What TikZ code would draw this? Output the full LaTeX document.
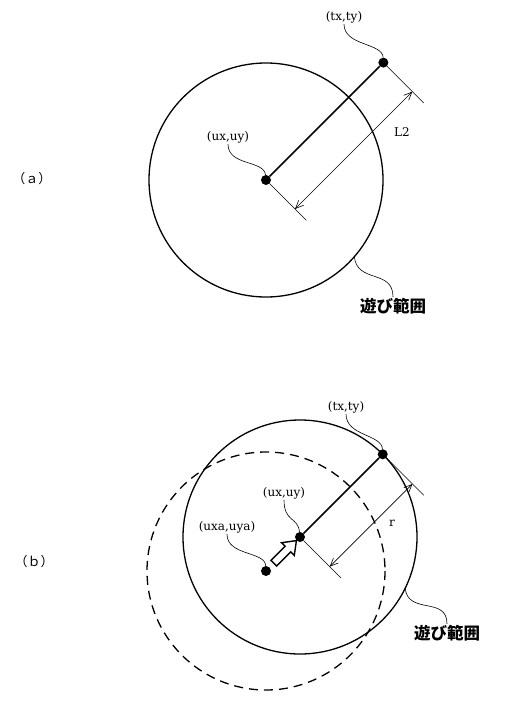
\documentclass[tikz,border=0pt]{standalone}
\usepackage{fontspec}
\setmainfont{DejaVu Serif}
\newfontfamily\cjk{Noto Sans CJK JP}
\usetikzlibrary{arrows.meta,calc}

\begin{document}
\begin{tikzpicture}[x=1pt,y=-1pt,
  every node/.style={inner sep=1pt,font=\fontsize{12}{12}\selectfont},
  dot/.style={circle,fill=black,inner sep=0pt,minimum size=10pt},
  hint/.style={line width=0.6pt},
  playcircle/.style={line width=1.3pt},
  part/.style={font=\fontsize{13}{13}\selectfont\cjk},
  jp/.style={font=\fontsize{16.5}{16.5}\selectfont\cjk\bfseries},
  dimarrow/.style={line width=0.6pt,
    {Straight Barb[length=8pt,width=7pt]}-{Straight Barb[length=8pt,width=7pt]}}]
\useasboundingbox (0,0) rectangle (504,709);

% (a)
\node[part] (labA) at (32,179) {（ａ）};
\draw[playcircle] (266,180) circle[radius=117];
\node[dot] (uA) at (266,180) {};
\node[dot] (tA) at ($(uA)+(-45:166)$) {};
\draw[line width=1.6pt] (uA) -- (tA);
\coordinate (uAe) at ($(uA.center)!57pt!-90:(tA.center)$);
\coordinate (tAe) at ($(tA.center)!57pt!90:(uA.center)$);
\coordinate (dA1) at ($(uA.center)!41pt!-90:(tA.center)$);
\coordinate (dA2) at ($(tA.center)!41pt!90:(uA.center)$);
\draw[hint] (uA) -- (uAe);
\draw[hint] (tA) -- (tAe);
\draw[dimarrow] (dA1) -- (dA2);
\node (L2) at (402,132) {L2};
\node (uxuyA) at (228,137) {(ux,uy)};
\node (txtyA) at (344,17) {(tx,ty)};
\node[jp] (rangeA) at (393,306) {遊び範囲};
\coordinate (onA) at ($(uA.center)+(41:117)$);
\draw[hint] (uxuyA.south) .. controls +(0,22) and +(-2,-20) .. (uA);
\draw[hint] (txtyA.south) .. controls +(0,22) and +(-1,-20) .. (tA);
\draw[hint] (onA) .. controls +(3,27) and +(0,-28) .. (rangeA.north);

% (b)
\node[part] (labB) at (34,562) {（ｂ）};
\draw[playcircle] (300,537) circle[radius=117];
\draw[playcircle,dash pattern=on 9pt off 6pt] (266,571) circle[radius=119];
\node[dot] (uB) at (300,537) {};
\node[dot] (tB) at ($(uB)+(-45:117)$) {};
\node[dot] (uaB) at (266,571) {};
\draw[line width=1.6pt] (uB) -- (tB);
\coordinate (uBe) at ($(uB.center)!58pt!-90:(tB.center)$);
\coordinate (tBe) at ($(tB.center)!58pt!90:(uB.center)$);
\coordinate (dB1) at ($(uB.center)!42pt!-90:(tB.center)$);
\coordinate (dB2) at ($(tB.center)!42pt!90:(uB.center)$);
\draw[hint] (uB) -- (uBe);
\draw[hint] (tB) -- (tBe);
\draw[dimarrow] (dB1) -- (dB2);
\node (r) at (392,523) {r};
\coordinate (s) at ($(uaB.center)!11pt!(uB.center)$);
\coordinate (h) at ($(uaB.center)!31pt!(uB.center)$);
\coordinate (p) at ($(uaB.center)!43pt!(uB.center)$);
\draw[line width=1.4pt,fill=white] ($(s)!4pt!90:(uB.center)$) -- ($(h)!4pt!90:(uB.center)$)
  -- ($(h)!9pt!90:(uB.center)$) -- (p) -- ($(h)!9pt!-90:(uB.center)$)
  -- ($(h)!4pt!-90:(uB.center)$) -- ($(s)!4pt!-90:(uB.center)$) -- cycle;
\node (uxuyB) at (284,493) {(ux,uy)};
\node (txtyB) at (346,407) {(tx,ty)};
\node (uxaB) at (227,527) {(uxa,uya)};
\node[jp] (rangeB) at (447,633) {遊び範囲};
\coordinate (onB) at ($(uB.center)+(26:117)$);
\draw[hint] (uxuyB.south) .. controls +(0,22) and +(-2,-20) .. (uB);
\draw[hint] (txtyB.south) .. controls +(0,22) and +(-1,-20) .. (tB);
\draw[hint] (uxaB.south) .. controls +(0,22) and +(-1,-20) .. (uaB);
\draw[hint] (onB) .. controls +(3,27) and +(0,-28) .. (rangeB.north);
\end{tikzpicture}
\end{document}
